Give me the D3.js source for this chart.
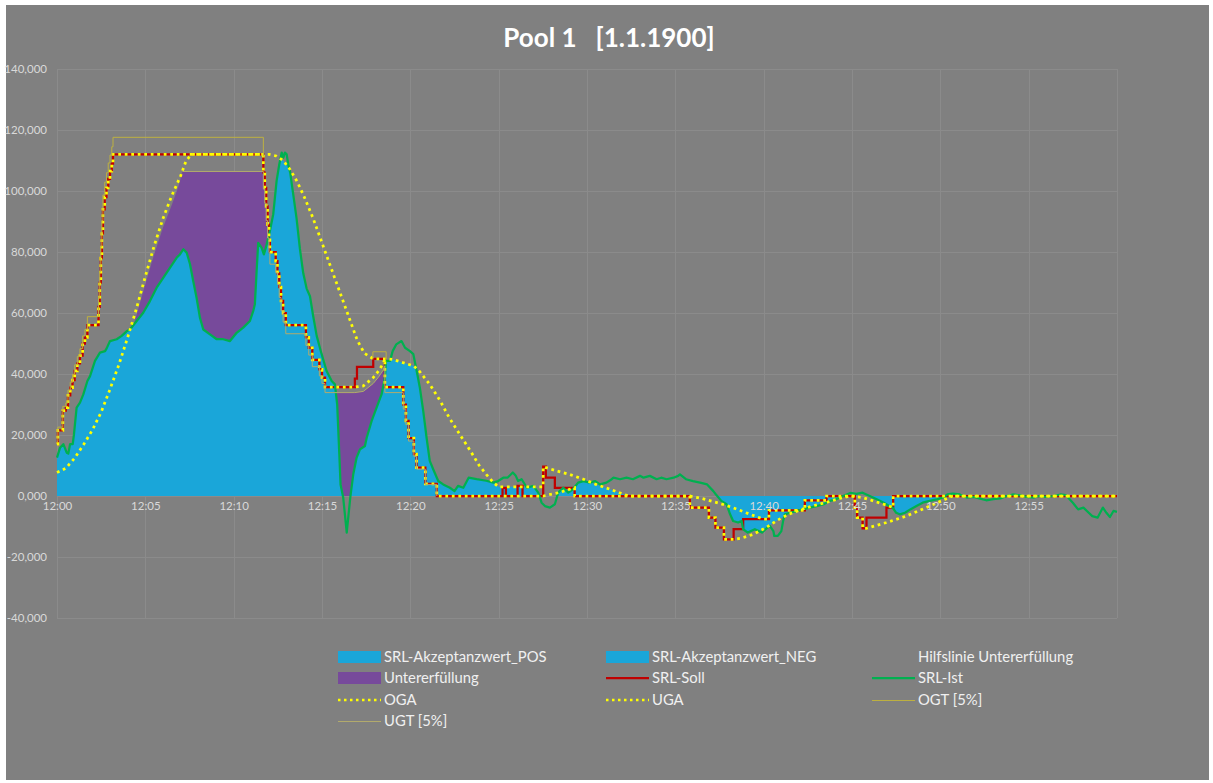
<!DOCTYPE html>
<html><head><meta charset="utf-8">
<script src="https://cdn.jsdelivr.net/npm/d3@7"></script>
<style>
body{margin:0;background:#ffffff}
svg{display:block}
text{font-family:Lato,"Open Sans",sans-serif}
</style>
</head><body>
<svg id="chart" width="1213" height="783"></svg>
<script>
// ---------------- DATA (time in minutes after 12:00, values in thousands) ----------------
const chartTitle = "Pool 1   [1.1.1900]";
const yTicks = [-40, -20, 0, 20, 40, 60, 80, 100, 120, 140];
const yTickLabels = ["-40,000", "-20,000", "0,000", "20,000", "40,000", "60,000", "80,000", "100,000", "120,000", "140,000"];
const xTicks = [0, 5, 10, 15, 20, 25, 30, 35, 40, 45, 50, 55];
const xTickLabels = ["12:00", "12:05", "12:10", "12:15", "12:20", "12:25", "12:30", "12:35", "12:40", "12:45", "12:50", "12:55"];
const xGrid = [0, 5, 10, 15, 20, 25, 30, 35, 40, 45, 50, 55, 60];

// SRL-Soll (step after)
const srlSoll = [[0,17],[0.05,21.5],[0.33,28],[0.5,29],[0.62,33],[0.75,35.5],[0.88,38],[1.0,41],[1.15,43.5],[1.3,46],[1.45,50],[1.58,52],[1.72,56],[2.35,62],[2.42,70],[2.48,78],[2.54,86],[2.6,94],[2.7,98],[2.8,101],[2.9,104],[3.0,106.5],[3.1,109],[3.17,112],
[11.68,106],[11.76,101],[11.84,95],[11.92,89],[12.0,84],[12.05,80],[12.38,77],[12.48,73],[12.58,68.5],[12.68,64],[12.8,60],[12.95,56],[14.09,52],[14.25,48.6],[14.45,44.6],[14.85,41.5],[15.0,38.8],[15.17,35.7],[16.86,38.5],[16.98,42.3],[17.9,45],[18.56,35.7],[19.6,30],[19.75,24.6],[19.9,19],[20.2,13.7],[20.35,9.3],[20.85,4],[21.5,0],
[25.22,2.7],[25.41,0],[26.07,3.3],[26.35,0],[27.52,9.6],[27.67,6],[28.18,2.7],[29.3,0],[35.82,-3.8],[36.9,-7.1],[37.27,-10.4],[37.75,-14.2],[38.3,-10.9],[38.84,-7.6],[40.3,-4.7],[42.33,-1.4],[43.56,0],[45.16,-3.8],[45.29,-7.1],[45.6,-10.6],[45.82,-7.1],[46.95,-3.8],[47.33,0],[60,0]];

// SRL-Ist
const srlIst = [[0,12.6],[0.17,15.8],[0.36,17],[0.55,14.2],[0.64,13.9],[0.74,17],[0.89,17],[0.96,20.2],[1.11,29],[1.3,30.6],[1.49,33.3],[1.72,37.7],[1.87,39.3],[2.15,44.3],[2.43,47],[2.72,47.5],[2.81,48.4],[3.0,50.8],[3.38,51.4],[3.66,52.5],[3.94,54],[4.13,54.6],[4.51,57.4],[4.88,60.1],[5.26,63.9],[5.64,68.3],[6.02,71.6],[6.4,74.9],[6.77,78.1],[6.96,79.2],[7.15,80.9],[7.34,79.8],[7.53,76],[7.71,70.5],[7.9,65],[8.09,58.5],[8.28,54.6],[8.66,53],[9.04,51.4],[9.41,51.4],[9.79,50.8],[10.17,53.5],[10.54,55.2],[10.92,57.4],[11.11,60.7],[11.2,62.9],[11.3,73.8],[11.39,83],[11.58,81.4],[11.71,79.2],[11.87,82.5],[12.05,86.9],[12.24,92.4],[12.43,103.3],[12.58,108.7],[12.72,112.6],[12.81,110.9],[12.9,112.6],[13.0,112],[13.09,108.7],[13.2,106],[13.37,99],[13.56,91],[13.75,81],[13.94,73],[14.13,68],[14.32,65.5],[14.5,59],[14.7,52.5],[14.98,46.5],[15.26,41],[15.55,37.7],[15.73,36.6],[15.86,30],[15.98,13.7],[16.05,3.8],[16.2,-0.5],[16.4,-12],[16.6,-0.5],[16.77,7.1],[16.96,12.6],[17.15,15.3],[17.43,16.4],[17.53,19.1],[17.81,24.6],[18.09,29],[18.37,33.3],[18.56,38.8],[18.62,44.3],[18.85,44.3],[19.0,47.5],[19.2,49.7],[19.5,50.8],[19.7,48.6],[19.98,47.5],[20.17,46.5],[20.36,41],[20.54,35.5],[20.73,27.9],[20.92,19.1],[21.1,11.5],[21.3,8.7],[21.58,4.9],[21.86,3.8],[22.24,2.7],[22.5,1.6],[22.7,3.3],[23.0,2.7],[23.3,6],[23.75,5.5],[24.3,5.0],[24.7,4.4],[24.97,4.9],[25.26,6],[25.5,6],[25.8,7.7],[25.97,6.6],[26.1,4.9],[26.3,5.5],[26.6,2.7],[26.96,3.3],[27.24,1.1],[27.43,-2.2],[27.62,-3.3],[27.9,-3.8],[28.18,-2.7],[28.37,1.1],[28.65,2.7],[28.94,1.1],[29.2,2.2],[29.5,4.4],[29.8,4.9],[30.16,4.4],[30.45,4.9],[30.73,3.8],[31.1,4.4],[31.4,5.5],[31.5,6],[31.87,5.5],[32.24,6],[32.6,5.5],[33.0,6.6],[33.2,6],[33.56,6.6],[33.94,5.5],[34.2,6],[34.5,5.5],[34.9,6],[35.16,6.6],[35.26,7.1],[35.6,5.5],[36.0,4.9],[36.4,4.4],[36.8,3.8],[37.15,1.6],[37.3,0.5],[37.6,-1.6],[37.9,-2.7],[38.1,-6],[38.27,-8.2],[38.55,-8.7],[38.75,-8.2],[38.84,-10.9],[39.1,-12],[39.5,-10.9],[39.9,-12],[40.2,-10.4],[40.35,-9.8],[40.55,-11.5],[40.6,-13.1],[40.8,-13.1],[41.0,-11.5],[41.1,-8.2],[41.2,-6],[41.5,-5.5],[41.9,-4.9],[42.2,-4.4],[42.6,-3.8],[43.0,-3.3],[43.4,-2.7],[43.75,-1.6],[44.1,-1.1],[44.5,0],[44.9,1.0],[45.25,0.7],[45.6,1.1],[46.0,0],[46.4,-1.1],[46.8,-2.2],[47.1,-3.3],[47.3,-3.8],[47.5,-5.5],[47.7,-6],[48.0,-5.5],[48.3,-4.4],[48.65,-3.3],[49.0,-2.2],[49.4,-1.6],[49.8,-1.1],[50.15,-0.5],[50.4,0.5],[50.7,0.8],[51.1,0.5],[51.5,-0.5],[51.9,-0.3],[52.2,-0.8],[52.6,-1.4],[53.0,-1.0],[53.4,-0.8],[53.75,0],[54.1,0.5],[54.5,0.2],[54.9,-0.3],[55.3,-0.5],[55.6,0],[56.0,-0.3],[56.4,0],[56.8,0.5],[57.1,0.3],[57.5,-2.2],[57.8,-4.4],[58.1,-3.8],[58.4,-5.5],[58.6,-6.6],[58.9,-7.1],[59.2,-3.8],[59.4,-5.5],[59.6,-6.9],[59.8,-4.9],[60,-5.2]];

// OGA (upper limit; repeated time = vertical step)
const oga = [[0,17],[0.05,17],[0.05,21.5],[0.33,21.5],[0.33,28],[0.5,28],[0.5,29],[0.62,29],[0.62,33],[0.75,33],[0.75,35.5],[0.88,35.5],[0.88,38],[1.0,38],[1.0,41],[1.15,41],[1.15,43.5],[1.3,43.5],[1.3,46],[1.45,46],[1.45,50],[1.58,50],[1.58,52],[1.72,52],[1.72,56],[2.35,56],[2.35,62],[2.42,62],[2.42,70],[2.48,70],[2.48,78],[2.54,78],[2.54,86],[2.6,86],[2.6,94],[2.7,94],[2.7,98],[2.8,98],[2.8,101],[2.9,101],[2.9,104],[3.0,104],[3.0,106.5],[3.1,106.5],[3.1,109],[3.17,109],[3.17,112],
[12.0,112],[12.4,111.5],[12.8,110],[13.2,107],[13.6,103],[14.0,98],[14.5,91],[15.0,83],[15.5,75],[16.0,67],[16.5,59],[17.0,51],[17.4,46.8],[17.9,45],[18.56,45],[19.0,44.8],[19.6,43.7],[20.2,42.6],[20.5,41],[21.1,36.6],[21.7,31.1],[22.2,25.7],[22.8,20.2],[23.4,14.8],[23.9,10],[24.3,7.1],[24.7,4.4],[25.0,3.0],[27.52,3.0],[27.52,9.6],[28.3,8.2],[29.0,7.1],[29.8,5.5],[30.5,3.8],[31.3,2.2],[32.05,0.6],[32.4,0],[35.8,0],[36.5,-0.8],[37.5,-2.4],[38.3,-3.9],[39.0,-5.5],[39.7,-7.0],[40.0,-7.6],[40.3,-7.6],[40.3,-4.7],[42.33,-4.7],[42.33,-1.4],[43.56,-1.4],[43.56,0],[44.9,0],[45.6,-0.5],[46.2,-1.6],[46.8,-2.7],[47.33,-3.8],[47.33,0],[60,0]];

// UGA (lower limit)
const uga = [[0,7.7],[0.5,9.1],[1,12.4],[1.5,16.8],[2,21.6],[2.5,27.5],[3,35],[3.5,43],[4,52],[4.5,61.5],[5,72],[5.5,82],[6,91],[6.5,98.5],[7,105],[7.3,109.8],[7.6,112],[11.68,112],
[11.68,106],[11.76,106],[11.76,101],[11.84,101],[11.84,95],[11.92,95],[11.92,89],[12.0,89],[12.0,84],[12.05,84],[12.05,80],[12.38,80],[12.38,77],[12.48,77],[12.48,73],[12.58,73],[12.58,68.5],[12.68,68.5],[12.68,64],[12.8,64],[12.8,60],[12.95,60],[12.95,56],[14.09,56],[14.09,52],[14.25,52],[14.25,48.6],[14.45,48.6],[14.45,44.6],[14.85,44.6],[14.85,41.5],[15.0,41.5],[15.0,38.8],[15.17,38.8],[15.17,35.7],[16.86,35.7],
[17.34,36.1],[17.9,38.8],[18.2,41],[18.47,43.5],[18.56,45],
[18.56,35.7],[19.6,35.7],[19.6,30],[19.75,30],[19.75,24.6],[19.9,24.6],[19.9,19],[20.2,19],[20.2,13.7],[20.35,13.7],[20.35,9.3],[20.85,9.3],[20.85,4],[21.5,4],[21.5,0],
[27.52,0],[28.4,1.1],[29.3,2.7],[29.3,0],[35.82,0],[35.82,-3.8],[36.9,-3.8],[36.9,-7.1],[37.27,-7.1],[37.27,-10.4],[37.75,-10.4],[37.75,-14.2],[38.3,-14.2],[38.75,-13.8],[39.4,-12.6],[40.1,-10.5],[40.7,-8.2],[41.4,-6],[42.1,-4.5],[42.8,-3.2],[43.6,-2],[44.3,-0.8],[44.9,0],[45.16,0],[45.16,-3.8],[45.29,-3.8],[45.29,-7.1],[45.6,-7.1],[45.6,-10.6],[45.82,-10.6],[46.95,-8.7],[48.07,-6.6],[49.2,-3.8],[50.5,-0.5],[50.7,0],[60,0]];

// OGT [5%] (step after; null = gap)
const ogt = [[0,17.9],[0.05,22.6],[0.33,29.4],[0.5,30.5],[0.62,34.7],[0.75,37.3],[0.88,39.9],[1.0,43],[1.15,45.7],[1.3,48.3],[1.45,52.5],[1.58,54.6],[1.72,58.8],[2.35,65.1],[2.42,73.5],[2.48,81.9],[2.54,90.3],[2.6,98.7],[2.7,102.9],[2.8,106],[2.9,109.2],[3.0,111.8],[3.1,114.5],[3.17,117.6],[11.68,111.3],[11.68,null],[17.88,44.8],[17.88,47.3],[18.63,47.3],[18.63,44.8]];

// UGT [5%] (also the top of "Untererfüllung")
const ugt = [[0,7.3],[0.5,8.6],[1,11.8],[1.5,16],[2,20.6],[2.5,26.3],[3,33.5],[3.5,41.3],[4,50],[4.5,59.3],[5,69.5],[5.5,79.3],[6,88],[6.5,95.5],[6.9,102],[7.1,106.4],[11.68,106.4],[11.68,100.7],[11.76,100.7],[11.76,96],[11.84,96],[11.84,90.3],[11.92,90.3],[11.92,84.6],[12.0,84.6],[12.0,79.8],[12.05,79.8],[12.05,76],[12.38,76],[12.38,73.2],[12.48,73.2],[12.48,69.4],[12.58,69.4],[12.58,65.1],[12.68,65.1],[12.68,60.8],[12.8,60.8],[12.8,57],[12.95,57],[12.95,53.2],[14.09,53.2],[14.09,49.4],[14.25,49.4],[14.25,46.2],[14.45,46.2],[14.45,42.4],[14.85,42.4],[14.85,39.4],[15.0,39.4],[15.0,36.9],[15.17,36.9],[15.17,33.9],[16.86,33.9],[17.34,34.3],[17.9,36.9],[18.2,39],[18.47,41.3],[18.56,42.7],[18.56,33.9],[19.6,33.9],[19.6,28.5],[19.75,28.5],[19.75,23.4],[19.9,23.4],[19.9,18],[20.2,18],[20.2,13],[20.35,13],[20.35,8.8],[20.85,8.8],[20.85,3.8],[21.5,3.8],[21.5,0]];
const ugtLineStart = 7.1;

const legendItems = [
  {name:"SRL-Akzeptanzwert_POS", kind:"rect", color:"#1aa6d9"},
  {name:"SRL-Akzeptanzwert_NEG", kind:"rect", color:"#1aa6d9"},
  {name:"Hilfslinie Untererfüllung", kind:"none"},
  {name:"Untererfüllung", kind:"rect", color:"#774a9b"},
  {name:"SRL-Soll", kind:"line", color:"#c00000"},
  {name:"SRL-Ist", kind:"line", color:"#00b050"},
  {name:"OGA", kind:"dot", color:"#ffff00"},
  {name:"UGA", kind:"dot", color:"#ffff00"},
  {name:"OGT [5%]", kind:"thin", color:"#bdb040"},
  {name:"UGT [5%]", kind:"thin", color:"#b2aa6c"}
];

// ---------------- DRAWING ----------------
const svg = d3.select("#chart");
const C = {blue:"#1aa6d9", purple:"#774a9b", red:"#c00000", green:"#00b050", yellow:"#ffff00", ogt:"#bdb040", ugt:"#b2aa6c", text:"#d9d9d9", grid:"#8b8b8b"};

svg.append("rect").attr("x",6).attr("y",5).attr("width",1203).attr("height",775).attr("fill","#808080");

const x = d3.scaleLinear().domain([0,60]).range([57,1117]);
const y = d3.scaleLinear().domain([-40,140]).range([618,69]);

svg.append("text").attr("x",609).attr("y",47).attr("text-anchor","middle")
  .attr("fill","#ffffff").attr("font-size",26).attr("font-weight","bold")
  .style("white-space","pre").attr("xml:space","preserve").text(chartTitle);

// grid
const g = svg.append("g");
g.selectAll("line.h").data(yTicks).join("line").attr("class","h")
  .attr("x1",x(0)).attr("x2",x(60)).attr("y1",d=>y(d)+0.5).attr("y2",d=>y(d)+0.5)
  .attr("stroke",C.grid).attr("stroke-width",1);
g.selectAll("line.v").data(xGrid).join("line").attr("class","v")
  .attr("x1",d=>Math.round(x(d))+0.5).attr("x2",d=>Math.round(x(d))+0.5).attr("y1",y(140)).attr("y2",y(-40))
  .attr("stroke",C.grid).attr("stroke-width",1);

// y axis labels
const yAxis = d3.axisLeft(y).tickValues(yTicks).tickSize(0).tickPadding(0)
  .tickFormat((d,i)=>yTickLabels[i]);
const ya = svg.append("g").attr("transform","translate(47,0)").call(yAxis);
ya.select(".domain").remove();
ya.selectAll("text").attr("fill",C.text).attr("font-size",11.5).attr("font-family","Lato,'Open Sans',sans-serif");

// defs for clipping
const defs = svg.append("defs");
const clipPosArea = d3.area().x(d=>x(d[0])).y0(y(0)).y1(d=>y(Math.max(0,d[1])));
const clipNegArea = d3.area().x(d=>x(d[0])).y0(y(0)).y1(d=>y(Math.min(0,d[1])));
defs.append("clipPath").attr("id","clipPos").append("path").attr("d",clipPosArea(oga));
defs.append("clipPath").attr("id","clipNeg").append("path").attr("d",clipNegArea(uga));

const plot = svg.append("g");
// Untererfüllung (purple) – region up to UGT, blue drawn over it
const purpleArea = d3.area().x(d=>x(d[0])).y0(y(0)).y1(d=>y(d[1]));
plot.append("path").attr("d",purpleArea(ugt)).attr("fill",C.purple);

// Akzeptanzwert POS / NEG
const istArea = d3.area().x(d=>x(d[0])).y0(y(0)).y1(d=>y(d[1]));
plot.append("path").attr("d",istArea(srlIst)).attr("fill",C.blue).attr("clip-path","url(#clipPos)");
plot.append("path").attr("d",istArea(srlIst)).attr("fill",C.blue).attr("clip-path","url(#clipNeg)");

// lines
const stepLine = d3.line().defined(d=>d[1]!=null).x(d=>x(d[0])).y(d=>y(d[1])).curve(d3.curveStepAfter);
const linLine = d3.line().defined(d=>d[1]!=null).x(d=>x(d[0])).y(d=>y(d[1]));

plot.append("path").attr("d",stepLine(srlSoll)).attr("fill","none").attr("stroke",C.red).attr("stroke-width",2.25);
plot.append("path").attr("d",linLine(srlIst)).attr("fill","none").attr("stroke",C.green).attr("stroke-width",2.25).attr("stroke-linejoin","round");
plot.append("path").attr("d",linLine(oga)).attr("fill","none").attr("stroke",C.yellow).attr("stroke-width",2.75).attr("stroke-dasharray","2.75,3.75");
plot.append("path").attr("d",linLine(uga)).attr("fill","none").attr("stroke",C.yellow).attr("stroke-width",2.75).attr("stroke-dasharray","2.75,3.75");
plot.append("path").attr("d",stepLine(ogt)).attr("fill","none").attr("stroke",C.ogt).attr("stroke-width",1);
plot.append("path").attr("d",linLine(ugt.filter(d=>d[0]>=ugtLineStart))).attr("fill","none").attr("stroke",C.ugt).attr("stroke-width",1);

// x axis labels
const xAxis = d3.axisBottom(x).tickValues(xTicks).tickSize(0).tickPadding(0).tickFormat((d,i)=>xTickLabels[i]);
const xa = svg.append("g").attr("transform",`translate(0,${y(0)+6})`).call(xAxis);
xa.select(".domain").remove();
xa.selectAll("text").attr("fill",C.text).attr("font-size",11.5).attr("font-family","Lato,'Open Sans',sans-serif");

// legend
const colX = [338, 606, 872];
const rowY = [657, 678, 700, 721];
const leg = svg.append("g");
legendItems.forEach((it,i)=>{
  const cx = colX[i%3], cy = rowY[Math.floor(i/3)];
  const gi = leg.append("g");
  if (it.kind==="rect") gi.append("rect").attr("x",cx).attr("y",cy-6).attr("width",43).attr("height",12).attr("fill",it.color);
  else if (it.kind==="line") gi.append("line").attr("x1",cx).attr("x2",cx+43).attr("y1",cy).attr("y2",cy).attr("stroke",it.color).attr("stroke-width",2.25);
  else if (it.kind==="dot") gi.append("line").attr("x1",cx).attr("x2",cx+43).attr("y1",cy).attr("y2",cy).attr("stroke",it.color).attr("stroke-width",2.5).attr("stroke-dasharray","2.5,3.5");
  else if (it.kind==="thin") gi.append("line").attr("x1",cx).attr("x2",cx+43).attr("y1",cy+0.5).attr("y2",cy+0.5).attr("stroke",it.color).attr("stroke-width",1);
  gi.append("text").attr("x",cx+46).attr("y",cy+5).attr("fill","#f0f0f0").attr("font-size",14.8).text(it.name);
});
</script>
</body></html>
